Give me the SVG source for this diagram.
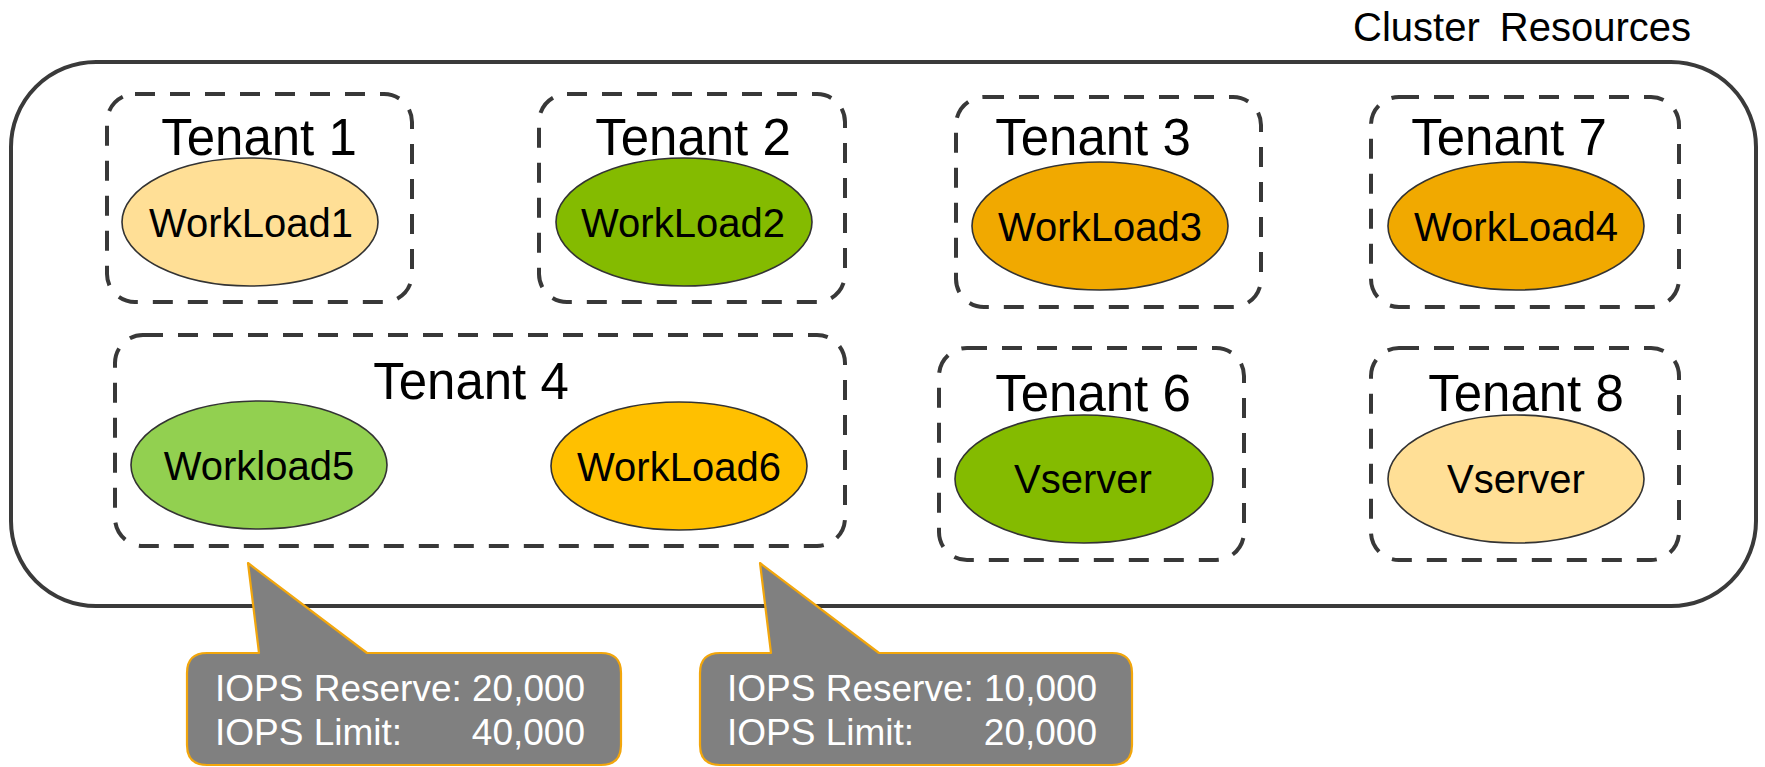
<svg xmlns="http://www.w3.org/2000/svg" width="1765" height="767" viewBox="0 0 1765 767">
<style>
  .bg { fill: #ffffff; }
  .cluster { fill: #ffffff; stroke: #3a3a3a; stroke-width: 4; }
  .tenant { fill: none; stroke: #383838; stroke-width: 4; stroke-dasharray: 20 15; }
  .wl { stroke: #333333; stroke-width: 1.6; }
  .title { font-family: "Liberation Sans", Arial, sans-serif; font-size: 51px; fill: #000000; text-anchor: middle; }
  .wltext { font-family: "Liberation Sans", Arial, sans-serif; font-size: 40px; fill: #000000; text-anchor: middle; }
  .callout { fill: #808080; stroke: #f2a60c; stroke-width: 2.2; stroke-linejoin: round; }
  .ctext { font-family: "Liberation Sans", Arial, sans-serif; font-size: 37px; fill: #ffffff; }
  .cluster-label { font-family: "Liberation Sans", Arial, sans-serif; font-size: 40px; fill: #000000; }
</style>
<rect class="bg" x="0" y="0" width="1765" height="767"/>

<g id="cluster">
  <rect class="cluster" x="11" y="62" width="1745" height="544" rx="85" ry="85"/>
  <text class="cluster-label" x="1353" y="41" word-spacing="9">Cluster Resources</text>
</g>

<g id="tenant1">
  <rect class="tenant" x="107" y="94" width="305" height="208" rx="28" ry="28"/>
  <text class="title" x="259" y="155">Tenant 1</text>
  <g id="workload1">
    <ellipse class="wl" cx="250" cy="222" rx="128" ry="64" fill="#ffdf96"/>
    <text class="wltext" x="251" y="237">WorkLoad1</text>
  </g>
</g>

<g id="tenant2">
  <rect class="tenant" x="539" y="94" width="306" height="208" rx="28" ry="28"/>
  <text class="title" x="693" y="155">Tenant 2</text>
  <g id="workload2">
    <ellipse class="wl" cx="684" cy="222" rx="128" ry="64" fill="#84bb00"/>
    <text class="wltext" x="683" y="237">WorkLoad2</text>
  </g>
</g>

<g id="tenant3">
  <rect class="tenant" x="956" y="97" width="305" height="210" rx="28" ry="28"/>
  <text class="title" x="1093" y="155">Tenant 3</text>
  <g id="workload3">
    <ellipse class="wl" cx="1100" cy="226" rx="128" ry="64" fill="#f1a900"/>
    <text class="wltext" x="1100" y="241">WorkLoad3</text>
  </g>
</g>

<g id="tenant7">
  <rect class="tenant" x="1371" y="97" width="308" height="210" rx="28" ry="28"/>
  <text class="title" x="1509" y="155">Tenant 7</text>
  <g id="workload4">
    <ellipse class="wl" cx="1516" cy="226" rx="128" ry="64" fill="#f1a900"/>
    <text class="wltext" x="1516" y="241">WorkLoad4</text>
  </g>
</g>

<g id="tenant4">
  <rect class="tenant" x="115" y="335" width="730" height="211" rx="28" ry="28"/>
  <text class="title" x="471" y="399">Tenant 4</text>
  <g id="workload5">
    <ellipse class="wl" cx="259" cy="465" rx="128" ry="64" fill="#92d050"/>
    <text class="wltext" x="259" y="480">Workload5</text>
  </g>
  <g id="workload6">
    <ellipse class="wl" cx="679" cy="466" rx="128" ry="64" fill="#ffc000"/>
    <text class="wltext" x="679" y="481">WorkLoad6</text>
  </g>
</g>

<g id="tenant6">
  <rect class="tenant" x="939" y="348" width="305" height="212" rx="28" ry="28"/>
  <text class="title" x="1093" y="411">Tenant 6</text>
  <g id="vserver6">
    <ellipse class="wl" cx="1084" cy="479" rx="129" ry="64" fill="#84bb00"/>
    <text class="wltext" x="1083" y="493">Vserver</text>
  </g>
</g>

<g id="tenant8">
  <rect class="tenant" x="1371" y="348" width="308" height="212" rx="28" ry="28"/>
  <text class="title" x="1526" y="411">Tenant 8</text>
  <g id="vserver8">
    <ellipse class="wl" cx="1516" cy="479" rx="128" ry="64" fill="#ffdf96"/>
    <text class="wltext" x="1516" y="493">Vserver</text>
  </g>
</g>

<g id="connectors"></g>

<g id="callout1">
  <path class="callout" d="M 207,653 L 259,653 L 248,563 L 367,653 L 601,653 Q 621,653 621,673 L 621,745 Q 621,765 601,765 L 207,765 Q 187,765 187,745 L 187,673 Q 187,653 207,653 Z"/>
  <text class="ctext" x="215" y="701">IOPS Reserve: 20,000</text>
  <text class="ctext" y="745"><tspan x="215">IOPS Limit:</tspan><tspan x="585" text-anchor="end">40,000</tspan></text>
</g>

<g id="callout2">
  <path class="callout" d="M 720,653 L 771,653 L 760,563 L 879,653 L 1112,653 Q 1132,653 1132,673 L 1132,745 Q 1132,765 1112,765 L 720,765 Q 700,765 700,745 L 700,673 Q 700,653 720,653 Z"/>
  <text class="ctext" x="727" y="701">IOPS Reserve: 10,000</text>
  <text class="ctext" y="745"><tspan x="727">IOPS Limit:</tspan><tspan x="1097" text-anchor="end">20,000</tspan></text>
</g>
</svg>
